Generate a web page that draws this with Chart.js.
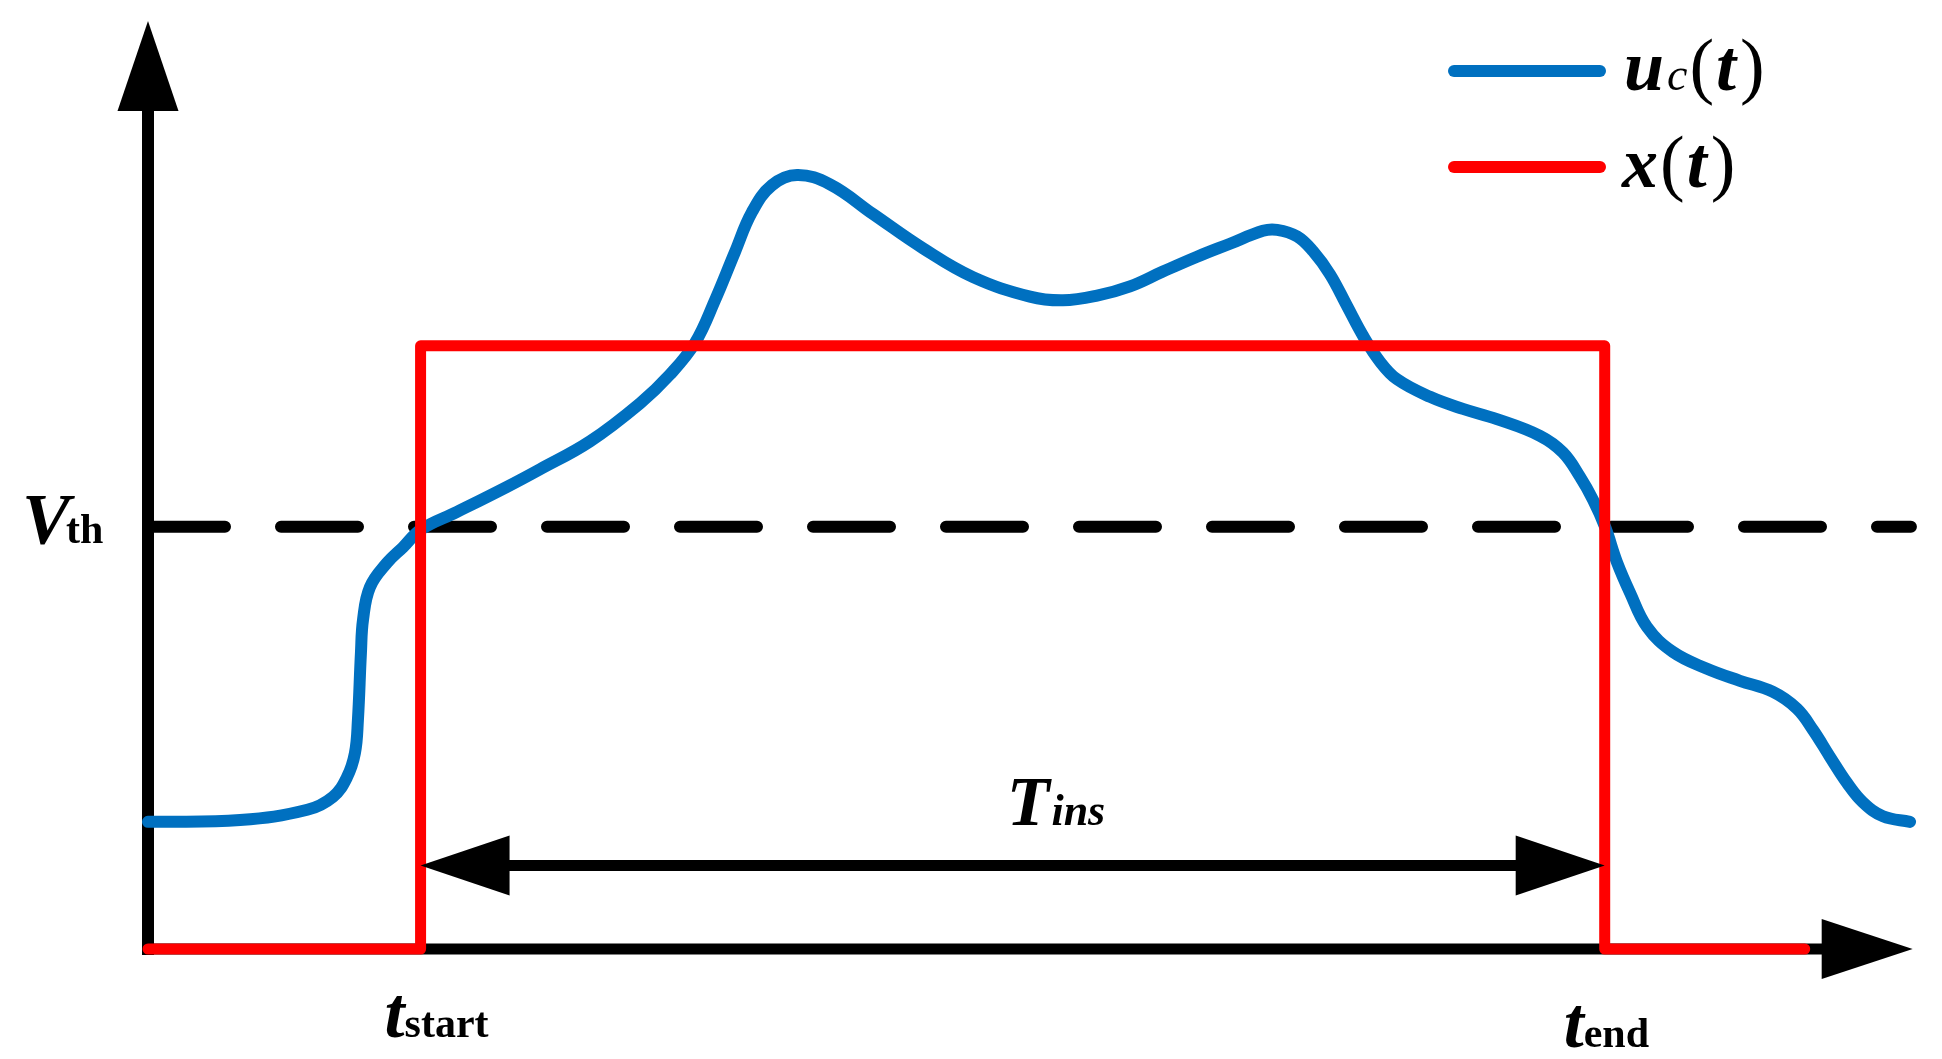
<!DOCTYPE html>
<html>
<head>
<meta charset="utf-8">
<script src="https://cdn.jsdelivr.net/npm/chart.js@4.4.1/dist/chart.umd.min.js"></script>
<style>
  html, body { margin: 0; padding: 0; background: #fff; }
  canvas { display: block; }
</style>
</head>
<body>
<canvas id="grafico" width="1942" height="1059"></canvas>
<script>
// u_c(t) (time 0..10, voltage 0..10)
const ucTime = [0, 0.52, 0.90, 1.045, 1.124, 1.169, 1.186, 1.203, 1.215, 1.254, 1.35, 1.441, 1.542,
  1.746, 2.028, 2.215, 2.497, 2.78, 2.949, 3.09, 3.203, 3.316, 3.412, 3.525, 3.667,
  3.853, 4.096, 4.379, 4.661, 4.983, 5.169, 5.362, 5.548, 5.734, 5.927, 6.113, 6.299, 6.379,
  6.492, 6.582, 6.678, 6.774, 6.864, 6.96, 7.056, 7.243, 7.429, 7.621, 7.864, 7.994,
  8.09, 8.164, 8.232, 8.299, 8.373, 8.469, 8.616, 8.808, 8.994, 9.181, 9.316, 9.407,
  9.503, 9.599, 9.689, 9.802, 9.955];
const ucValues = [1.37, 1.39, 1.50, 1.64, 1.85, 2.11, 2.47, 3.19, 3.55, 3.90, 4.16, 4.33, 4.52,
  4.71, 4.98, 5.17, 5.47, 5.88, 6.19, 6.53, 6.99, 7.51, 7.94, 8.23, 8.34,
  8.24, 7.92, 7.55, 7.24, 7.03, 6.99, 7.04, 7.14, 7.30, 7.46, 7.60, 7.74, 7.75,
  7.68, 7.52, 7.27, 6.93, 6.61, 6.33, 6.14, 5.95, 5.82, 5.71, 5.53, 5.35,
  5.09, 4.84, 4.55, 4.17, 3.84, 3.47, 3.20, 3.02, 2.89, 2.77, 2.59, 2.36,
  2.07, 1.79, 1.58, 1.43, 1.37];

// x(t) pulse
const tStart = 1.54;
const tEnd = 8.23;
const xTime = [0, tStart, tStart, tEnd, tEnd, 9.36];
const xValues = [0, 0, 6.5, 6.5, 0, 0];

// threshold V_th
const vthTime = [0, 9.96];
const vthValue = 4.55;

// T_ins arrow level, axis ends
const tinsLevel = 0.9;
const axisXEnd = 9.97;
const axisYEnd = 10;

const SERIF = "'Liberation Serif', 'Times New Roman', serif";

function arrowHead(ctx, tx, ty, dx, dy, len, half) {
    const bx = tx - dx * len, by = ty - dy * len;
    ctx.beginPath();
    ctx.moveTo(tx, ty);
    ctx.lineTo(bx - dy * half, by + dx * half);
    ctx.lineTo(bx + dy * half, by - dx * half);
    ctx.closePath();
    ctx.fill();
}

// draws a row of text pieces one after another
function textRun(ctx, parts, x, baseline) {
    parts.forEach(p => {
        ctx.font = p.font;
        ctx.fillText(p.text, x, baseline + (p.dy || 0));
        x += ctx.measureText(p.text).width + (p.gap || 0);
    });
}

const axesPlugin = {
    id: 'axes',
    beforeDatasetsDraw(chart) {
        const ctx = chart.ctx;
        const sx = chart.scales.x, sy = chart.scales.y;
        const x0 = sx.getPixelForValue(0), y0 = sy.getPixelForValue(0);
        const xTip = sx.getPixelForValue(axisXEnd), yTip = sy.getPixelForValue(axisYEnd);
        ctx.save();
        ctx.strokeStyle = '#000';
        ctx.fillStyle = '#000';
        ctx.lineWidth = 12;
        ctx.lineCap = 'butt';
        // vertical axis
        ctx.beginPath();
        ctx.moveTo(x0, y0 + 6);
        ctx.lineTo(x0, yTip + 85);
        ctx.stroke();
        arrowHead(ctx, x0, yTip, 0, -1, 90, 30.5);
        // horizontal axis
        ctx.lineWidth = 11;
        ctx.beginPath();
        ctx.moveTo(x0 - 6, y0);
        ctx.lineTo(xTip - 85, y0);
        ctx.stroke();
        arrowHead(ctx, xTip, y0, 1, 0, 91, 30);
        ctx.restore();
    },
    afterDatasetsDraw(chart) {
        const ctx = chart.ctx;
        const sx = chart.scales.x, sy = chart.scales.y;
        const xa = sx.getPixelForValue(tStart), xb = sx.getPixelForValue(tEnd);
        const ya = sy.getPixelForValue(tinsLevel);
        ctx.save();
        ctx.fillStyle = '#000';
        ctx.strokeStyle = '#000';
        ctx.lineWidth = 11;
        // T_ins double arrow
        ctx.beginPath();
        ctx.moveTo(xa + 85, ya);
        ctx.lineTo(xb - 85, ya);
        ctx.stroke();
        arrowHead(ctx, xa, ya, -1, 0, 89, 30);
        arrowHead(ctx, xb, ya, 1, 0, 89, 30);

        ctx.textAlign = 'left';
        ctx.textBaseline = 'alphabetic';
        const big = 'bold italic 72px ' + SERIF;
        const subB = 'bold 42px ' + SERIF;
        const paren = '74px ' + SERIF;

        // T_ins
        textRun(ctx, [
            { text: 'T', font: 'bold italic 70px ' + SERIF, gap: 2 },
            { text: 'ins', font: 'bold italic 44px ' + SERIF }
        ], (xa + xb) / 2 - 6, ya - 40);

        // V_th
        const yv = sy.getPixelForValue(vthValue);
        textRun(ctx, [
            { text: 'V', font: big, gap: -4 },
            { text: 'th', font: subB }
        ], 22, yv + 16);

        // t_start, t_end
        textRun(ctx, [
            { text: 't', font: big },
            { text: 'start', font: subB }
        ], xa - 36, 1037);
        textRun(ctx, [
            { text: 't', font: big },
            { text: 'end', font: subB }
        ], xb - 41, 1047);

        // legend
        ctx.lineCap = 'round';
        ctx.lineWidth = 12;
        ctx.strokeStyle = '#0070C0';
        ctx.beginPath(); ctx.moveTo(1454, 71); ctx.lineTo(1600, 71); ctx.stroke();
        ctx.strokeStyle = '#FF0000';
        ctx.beginPath(); ctx.moveTo(1454, 167); ctx.lineTo(1600, 167); ctx.stroke();
        textRun(ctx, [
            { text: 'u', font: big, gap: 3 },
            { text: 'c', font: 'italic 46px ' + SERIF, gap: 2 },
            { text: '(', font: paren, gap: 2 },
            { text: 't', font: big, gap: 4 },
            { text: ')', font: paren }
        ], 1624, 90);
        textRun(ctx, [
            { text: 'x', font: big, gap: 2 },
            { text: '(', font: paren, gap: 2 },
            { text: 't', font: big, gap: 4 },
            { text: ')', font: paren }
        ], 1622, 187);
        ctx.restore();
    }
};

const ctx = document.getElementById('grafico').getContext('2d');
new Chart(ctx, {
    type: 'line',
    data: {
        datasets: [{
            label: 'x(t)',
            data: xTime.map((t, i) => ({ x: t, y: xValues[i] })),
            borderColor: '#FF0000',
            borderWidth: 11,
            tension: 0,
            borderJoinStyle: 'round',
            borderCapStyle: 'round',
            order: 1
        }, {
            label: 'uc(t)',
            data: ucTime.map((t, i) => ({ x: t, y: ucValues[i] })),
            borderColor: '#0070C0',
            borderWidth: 12,
            tension: 0.4,
            borderCapStyle: 'round',
            borderJoinStyle: 'round',
            order: 2
        }, {
            label: 'Vth',
            data: vthTime.map(t => ({ x: t, y: vthValue })),
            borderColor: '#000000',
            borderWidth: 12,
            borderDash: [77, 56],
            borderCapStyle: 'round',
            order: 3
        }]
    },
    options: {
        responsive: false,
        animation: false,
        devicePixelRatio: 1,
        layout: { padding: { left: 148, right: 24, top: 21, bottom: 110 } },
        scales: {
            x: { type: 'linear', min: 0, max: 10, display: false },
            y: { type: 'linear', min: 0, max: 10, display: false }
        },
        elements: { point: { radius: 0 }, line: { fill: false } },
        datasets: { line: { clip: false } },
        plugins: { legend: { display: false }, tooltip: { enabled: false } }
    },
    plugins: [axesPlugin]
});
</script>
</body>
</html>
